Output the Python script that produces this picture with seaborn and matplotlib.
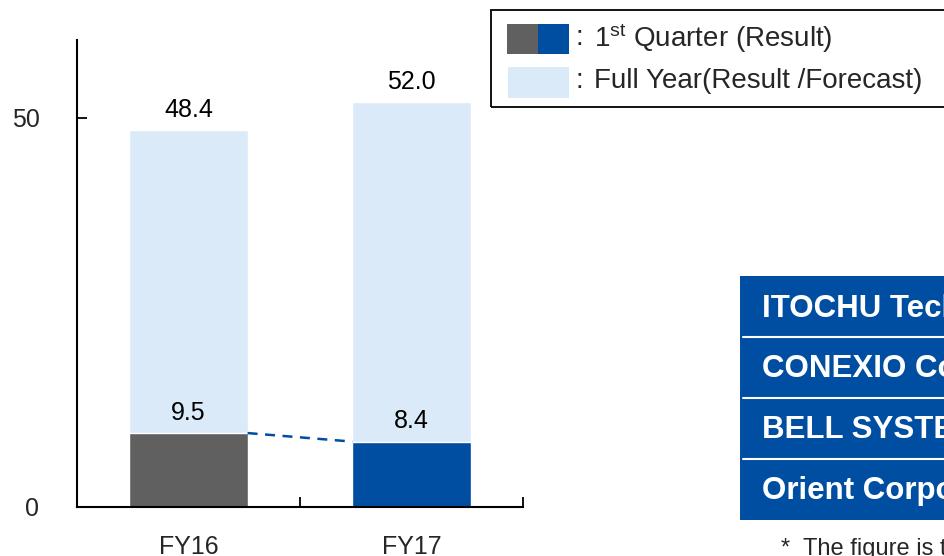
import matplotlib
matplotlib.use("Agg")
import matplotlib.pyplot as plt
from matplotlib.patches import Rectangle
import seaborn as sns

# values
years = ["FY16", "FY17"]
full_year = [48.4, 52.0]
first_quarter = [9.5, 8.4]
y_ticks = [0, 50]
companies = ["ITOCHU Techno-Solutions Corporation", "CONEXIO Corporation",
             "BELL SYSTEM24 Holdings, Inc.", "Orient Corporation"]
footnote = "*  The figure is the total of the above companies"

LIGHT = "#dbeaf8"
GREY = "#606060"
BLUE = "#004ea2"
Q1_COLORS = [GREY, BLUE]

sns.set_theme(style="white")
plt.rcParams["font.family"] = ["Liberation Sans", "DejaVu Sans"]

fig = plt.figure(figsize=(9.44, 5.56), dpi=100)
ax = fig.add_axes([77 / 944, 49 / 556, 446 / 944, 467 / 556])

W = 0.53
sns.barplot(x=years, y=full_year, color=LIGHT, width=W, saturation=1, ax=ax)
sns.barplot(x=years, y=first_quarter, hue=years, palette=Q1_COLORS, width=W,
            saturation=1, legend=False, ax=ax)

# dashed link between the 1st-quarter bars
ax.plot([0 + W / 2, 1 - W / 2], first_quarter, ls=(0, (4, 3)), color=BLUE, lw=1.8)

for i, (f, q) in enumerate(zip(full_year, first_quarter)):
    ax.annotate(f"{f:.1f}", (i, f), xytext=(0, 6), textcoords="offset points",
                ha="center", va="bottom", fontsize=18, color="black")
    ax.annotate(f"{q:.1f}", (i, q), xytext=(0, 6), textcoords="offset points",
                ha="center", va="bottom", fontsize=18, color="black")

ax.set_xlim(-0.5, 1.5)
ax.set_ylim(0, 60)
ax.set_yticks(y_ticks)
ax.set_yticklabels([str(t) for t in y_ticks], fontsize=18)
ax.set_xticks([0, 1])
ax.set_xticklabels(years, fontsize=18)
ax.set_xticks([0.5, 1.5], minor=True)
ax.tick_params(axis="x", which="major", length=0, pad=20)
ax.tick_params(axis="x", which="minor", direction="in", length=7, width=1.3,
               color="black", bottom=True)
ax.tick_params(axis="y", direction="in", length=7, width=1.3, color="black",
               left=True, pad=27)
for s in ["top", "right"]:
    ax.spines[s].set_visible(False)
for s in ["left", "bottom"]:
    ax.spines[s].set_color("black")
    ax.spines[s].set_linewidth(1.5)
ax.set_xlabel("")
ax.set_ylabel("")

# legend box (hand-built, runs off the right edge like the reference)
tf = fig.transFigure
def px(x, y, w=0, h=0):
    return (x / 944, 1 - (y + h) / 556), w / 944, h / 556

xy, w, h = px(491, 10, 470, 97)
fig.patches.append(Rectangle(xy, w, h, transform=tf, fill=False, ec="black", lw=1.3))
for x0, c in zip([507, 538], Q1_COLORS):
    xy, w, h = px(x0, 24, 31, 30)
    fig.patches.append(Rectangle(xy, w, h, transform=tf, fc=c, ec="none"))
xy, w, h = px(508, 67, 61, 31)
fig.patches.append(Rectangle(xy, w, h, transform=tf, fc=LIGHT, ec="none"))
for yc in [38, 81]:
    fig.text(575 / 944, 1 - yc / 556, ":", fontsize=20, va="center", ha="left")
fig.text(594 / 944, 1 - 38 / 556, r"$\mathregular{1^{st}}$ Quarter (Result)",
         fontsize=20, va="center", ha="left")
fig.text(594 / 944, 1 - 81 / 556, "Full Year(Result /Forecast)",
         fontsize=20, va="center", ha="left")

# company table
xy, w, h = px(740, 276, 260, 244)
fig.patches.append(Rectangle(xy, w, h, transform=tf, fc=BLUE, ec="none"))
for yl in [337, 398, 459]:
    fig.add_artist(plt.Line2D([743 / 944, 1.0], [1 - yl / 556] * 2, transform=tf,
                              color="white", lw=1.5))
for name, yc in zip(companies, [309, 369, 430, 491]):
    fig.text(762 / 944, 1 - yc / 556, name, color="white", fontsize=22.5,
             fontweight="bold", va="center", ha="left")

fig.text(781 / 944, 1 - 549 / 556, footnote, fontsize=17, va="center", ha="left")

fig.savefig("out.png", dpi=100)
